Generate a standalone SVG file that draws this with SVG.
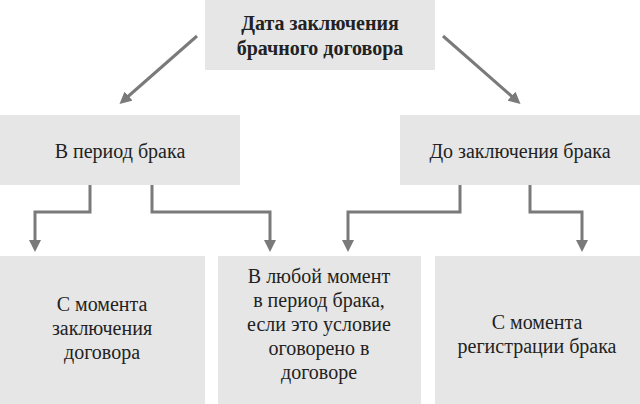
<svg xmlns="http://www.w3.org/2000/svg" width="640" height="404" viewBox="0 0 640 404">
<style>
.b{fill:#e6e6e6}
text{font-family:'Liberation Serif','Times New Roman','DejaVu Serif',serif;font-size:20px;fill:#222;text-anchor:middle}
.c path{fill:none;stroke:#7a7a7a;stroke-width:3}
</style>
<defs><marker id="a" markerWidth="4" markerHeight="4" refX="2" refY="2" orient="auto"><path d="M0,0 L4,2 L0,4 z" fill="#7a7a7a"/></marker></defs>
<rect width="640" height="404" fill="#fff"/>
<g id="top"><rect class="b" x="205" y="0" width="230" height="70"/><text x="320" y="30" font-weight="bold">Дата заключения</text><text x="320" y="55" font-weight="bold">брачного договора</text></g>
<g id="left"><rect class="b" x="0" y="115" width="240" height="70"/><text x="120" y="158">В период брака</text></g>
<g id="right"><rect class="b" x="400" y="115" width="240" height="70"/><text x="520" y="158">До заключения брака</text></g>
<g id="b1"><rect class="b" x="0" y="256" width="205" height="148"/><text x="102" y="311">С момента</text><text x="102" y="335">заключения</text><text x="102" y="359">договора</text></g>
<g id="b2"><rect class="b" x="218" y="256" width="203" height="148"/><text x="319" y="283">В любой момент</text><text x="319" y="307">в период брака,</text><text x="319" y="331">если это условие</text><text x="319" y="355">оговорено в</text><text x="319" y="379">договоре</text></g>
<g id="b3"><rect class="b" x="435" y="256" width="205" height="148"/><text x="537" y="329">С момента</text><text x="537" y="353">регистрации брака</text></g>
<g class="c">
<path d="M197,36 L124,100" marker-end="url(#a)"/>
<path d="M443,36 L516,100" marker-end="url(#a)"/>
<path d="M90,185 V212 H35 V246" marker-end="url(#a)"/>
<path d="M152,185 V212 H270 V246" marker-end="url(#a)"/>
<path d="M460,185 V212 H348 V246" marker-end="url(#a)"/>
<path d="M530,185 V212 H582 V246" marker-end="url(#a)"/>
</g>
</svg>
